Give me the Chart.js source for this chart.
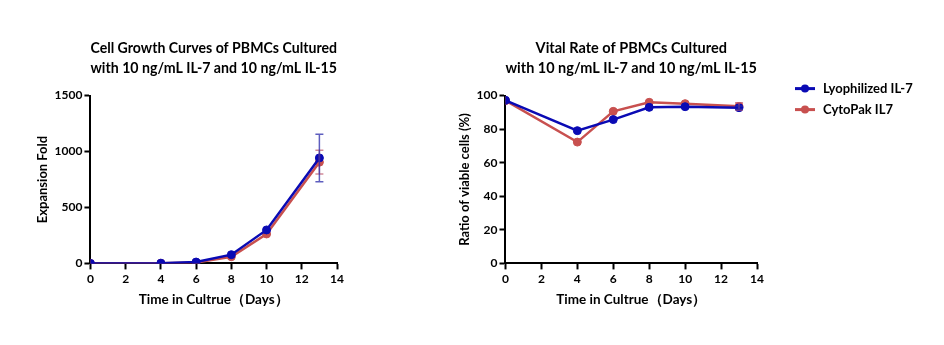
<!DOCTYPE html>
<html>
<head>
<meta charset="utf-8">
<script src="https://cdn.jsdelivr.net/npm/chart.js@4.4.1/dist/chart.umd.min.js"></script>
<style>
  html, body { margin: 0; padding: 0; background: #fff; }
  #wrap { position: relative; width: 944px; height: 345px; overflow: hidden; }
  #c1 { position: absolute; left: 0; top: 0; }
  #c2 { position: absolute; left: 400px; top: 0; }
</style>
</head>
<body>
<div id="wrap">
  <canvas id="c1" width="400" height="345"></canvas>
  <canvas id="c2" width="544" height="345"></canvas>
</div>
<script>
// ---- data ----
const days = [0, 4, 6, 8, 10, 13];
const seriesNames = ['Lyophilized IL-7', 'CytoPak IL7'];

const growthLyo = [0, 2, 12, 78, 299, 943];
const growthLyoErr = [0, 0, 0, 0, 0, 212];
const growthCyto = [0, 1, 8, 60, 263, 905];
const growthCytoErr = [0, 0, 0, 0, 0, 106];

const viableLyo = [97.2, 79.1, 85.7, 93.0, 93.4, 92.8];
const viableLyoErr = [0, 0, 0, 0, 0, 1.0];
const viableCyto = [97.0, 72.3, 90.6, 96.0, 95.2, 93.6];
const viableCytoErr = [0, 0, 0, 0, 0, 2.2];

const xTicks = [0, 2, 4, 6, 8, 10, 12, 14];
const growthTicks = [0, 500, 1000, 1500];
const viableTicks = [0, 20, 40, 60, 80, 100];

const title1 = ['Cell Growth Curves of PBMCs Cultured', 'with 10 ng/mL IL-7 and 10 ng/mL IL-15'];
const title2 = ['Vital Rate of PBMCs Cultured', 'with 10 ng/mL IL-7 and 10 ng/mL IL-15'];
const xTitle = 'Time in Cultrue\uFF08Days\uFF09';
const yTitle1 = 'Expansion Fold';
const yTitle2 = 'Ratio of viable cells (%)';

// ---- styles ----
const BLUE = '#0a0ab4';
const RED = '#c8504f';
const FONT = 'Lato, "Open Sans", sans-serif';

function pts(xs, ys) { return xs.map((x, i) => ({ x: x, y: ys[i] })); }

const errorBarPlugin = {
  id: 'errorBars',
  afterDatasetsDraw(chart) {
    const ctx = chart.ctx;
    const xs = chart.scales.x, ys = chart.scales.y;
    for (let d = chart.data.datasets.length - 1; d >= 0; d--) {
      const ds = chart.data.datasets[d];
      if (!ds.errors) continue;
      ctx.save();
      ctx.strokeStyle = ds.errorColor;
      ctx.lineWidth = 1.5;
      ds.data.forEach((p, i) => {
        const e = ds.errors[i];
        if (!e) return;
        const px = xs.getPixelForValue(p.x);
        const yt = ys.getPixelForValue(p.y + e);
        const yb = ys.getPixelForValue(p.y - e);
        ctx.beginPath();
        ctx.moveTo(px, yt); ctx.lineTo(px, yb);
        ctx.moveTo(px - 4, yt); ctx.lineTo(px + 4, yt);
        ctx.moveTo(px - 4, yb); ctx.lineTo(px + 4, yb);
        ctx.stroke();
      });
      ctx.restore();
    }
  }
};

// legend drawn beside the plot area, using the dataset labels/colours
const sideLegendPlugin = {
  id: 'sideLegend',
  afterDraw(chart) {
    const ctx = chart.ctx;
    const a = chart.chartArea;
    const x0 = a.right + 38;
    let y = a.top - 7;
    ctx.save();
    chart.data.datasets.forEach(ds => {
      ctx.strokeStyle = ds.borderColor;
      ctx.fillStyle = ds.borderColor;
      ctx.lineWidth = 3;
      ctx.beginPath(); ctx.moveTo(x0, y); ctx.lineTo(x0 + 20, y); ctx.stroke();
      ctx.beginPath(); ctx.arc(x0 + 10, y, 4, 0, Math.PI * 2); ctx.fill();
      ctx.fillStyle = '#000';
      ctx.font = 'bold 13px ' + FONT;
      ctx.textBaseline = 'middle';
      ctx.textAlign = 'left';
      ctx.fillText(ds.label, x0 + 28, y);
      y += 21;
    });
    ctx.restore();
  }
};

function makeDatasets(a, aErr, b, bErr) {
  return [
    { label: seriesNames[0], data: pts(days, a), errors: aErr, errorColor: 'rgba(40,40,170,0.75)',
      borderColor: BLUE, backgroundColor: BLUE, borderWidth: 2.5, pointRadius: 4, pointHoverRadius: 4,
      pointBorderWidth: 1, pointStyle: 'circle', tension: 0 },
    { label: seriesNames[1], data: pts(days, b), errors: bErr, errorColor: 'rgba(190,90,110,0.7)',
      borderColor: RED, backgroundColor: RED, borderWidth: 2.5, pointRadius: 4, pointHoverRadius: 4,
      pointBorderWidth: 1, pointStyle: 'circle', tension: 0 }
  ];
}

function axisX() {
  return {
    type: 'linear', min: 0, max: 14,
    afterBuildTicks(s) { s.ticks = xTicks.map(v => ({ value: v })); },
    border: { display: true, color: '#000', width: 2 },
    grid: { display: true, drawOnChartArea: false, drawTicks: true, tickLength: 6, tickWidth: 2, tickColor: '#000' },
    ticks: { color: '#000', font: { family: FONT, size: 12, weight: 'bold' }, padding: 3, maxRotation: 0,
             callback: v => String(v) },
    title: { display: true, text: xTitle, color: '#000', font: { family: FONT, size: 13.5, weight: 'bold' }, padding: { top: 2, bottom: 0 } }
  };
}

function axisY(max, tickVals, title) {
  return {
    type: 'linear', min: 0, max: max,
    afterBuildTicks(s) { s.ticks = tickVals.map(v => ({ value: v })); },
    border: { display: true, color: '#000', width: 2 },
    grid: { display: true, drawOnChartArea: false, drawTicks: true, tickLength: 6, tickWidth: 2, tickColor: '#000' },
    ticks: { color: '#000', font: { family: FONT, size: 12, weight: 'bold' }, padding: 2, callback: v => String(v) },
    title: { display: true, text: title, color: '#000', font: { family: FONT, size: 13, weight: 'bold' }, padding: { top: 0, bottom: 2 } }
  };
}

function titleOpts(lines) {
  return { display: true, fullSize: false, text: lines, color: '#000',
           font: { family: FONT, size: 14.5, weight: 'bold', lineHeight: 1.4 },
           padding: { top: 0, bottom: 17 } };
}

new Chart(document.getElementById('c1'), {
  type: 'line',
  data: { datasets: makeDatasets(growthLyo, growthLyoErr, growthCyto, growthCytoErr) },
  options: {
    responsive: false, animation: false, events: [],
    layout: { padding: { left: 35, right: 63, top: 38, bottom: 37 } },
    scales: { x: axisX(), y: axisY(1500, growthTicks, yTitle1) },
    plugins: { legend: { display: false }, tooltip: { enabled: false }, title: titleOpts(title1) }
  },
  plugins: [errorBarPlugin]
});

new Chart(document.getElementById('c2'), {
  type: 'line',
  data: { datasets: makeDatasets(viableLyo, viableLyoErr, viableCyto, viableCytoErr) },
  options: {
    responsive: false, animation: false, events: [],
    layout: { padding: { left: 57, right: 187, top: 38, bottom: 37 } },
    scales: { x: axisX(), y: axisY(100, viableTicks, yTitle2) },
    plugins: { legend: { display: false }, tooltip: { enabled: false }, title: titleOpts(title2) }
  },
  plugins: [errorBarPlugin, sideLegendPlugin]
});
</script>
</body>
</html>
